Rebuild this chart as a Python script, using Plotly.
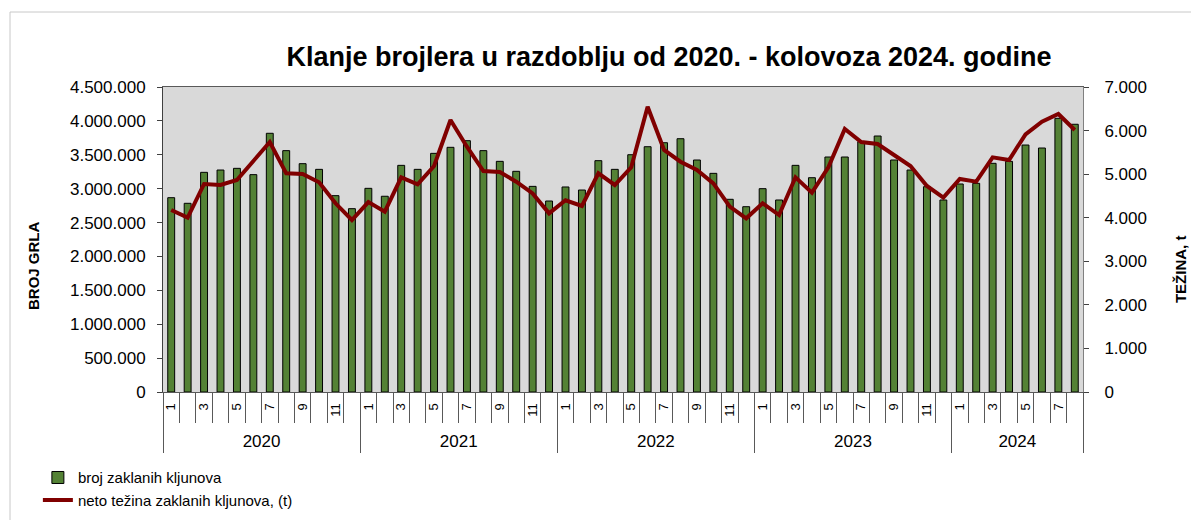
import plotly.graph_objects as go

# monthly data, Jan 2020 - Aug 2024
years = ["2020", "2021", "2022", "2023", "2024"]
months_per_year = [12, 12, 12, 12, 8]

broj_zaklanih = [
    2867000, 2784000, 3241000, 3275000, 3300000, 3207000, 3817000, 3561000, 3369000, 3285000, 2897000, 2705000,
    3005000, 2888000, 3344000, 3285000, 3521000, 3610000, 3708000, 3561000, 3403000, 3256000, 3034000, 2818000,
    3025000, 2980000, 3413000, 3285000, 3501000, 3619000, 3678000, 3737000, 3423000, 3226000, 2843000, 2734000,
    3000000, 2833000, 3344000, 3162000, 3467000, 3467000, 3693000, 3777000, 3423000, 3275000, 3029000, 2833000,
    3069000, 3079000, 3374000, 3403000, 3644000, 3600000, 4038000, 3950000,
]
neto_tezina = [
    4177, 4001, 4774, 4751, 4866, 5309, 5738, 5019, 5003, 4812, 4331, 3948,
    4360, 4139, 4927, 4766, 5187, 6243, 5630, 5072, 5049, 4827, 4559, 4100,
    4400, 4269, 5019, 4751, 5157, 6548, 5554, 5286, 5095, 4789, 4254, 3986,
    4330, 4062, 4927, 4574, 5157, 6036, 5738, 5692, 5439, 5187, 4728, 4460,
    4889, 4827, 5386, 5325, 5914, 6204, 6380, 6013,
]

FONT = "Liberation Sans, Arial, sans-serif"
GREEN = "#548235"
RED = "#800000"

# category index and month number for each bar
months = [m for n in months_per_year for m in range(1, n + 1)]
x = list(range(len(months)))
n = len(x)

odd_idx = [i for i, m in enumerate(months) if m % 2 == 1]
odd_txt = [str(months[i]) for i in odd_idx]
boundaries = [i - 0.5 for i in range(1, n)]
year_edges = [-0.5]
for k in months_per_year:
    year_edges.append(year_edges[-1] + k)
year_mid = [(a + b) / 2 for a, b in zip(year_edges[:-1], year_edges[1:])]

fig = go.Figure()
fig.add_trace(go.Bar(
    x=x, y=broj_zaklanih, name="broj zaklanih kljunova", width=0.42,
    marker=dict(color=GREEN, line=dict(color="#000000", width=1)),
))
# line sits on the overlaid x2 axis (which also carries the year labels)
fig.add_trace(go.Scatter(
    x=x, y=neto_tezina, name="neto težina zaklanih kljunova, (t)", mode="lines",
    xaxis="x2", yaxis="y2",
    line=dict(color=RED, width=4),
))

# page body has an 8px margin, so the figure is sized to the visible area
fig.update_layout(
    width=1191, height=512,
    margin=dict(l=155, r=116, t=79, b=128, autoexpand=False),
    paper_bgcolor="white", plot_bgcolor="#d9d9d9",
    separators=",.",
    font=dict(family=FONT, color="#000000", size=15),
    title=dict(
        text="<b>Klanje brojlera u razdoblju od 2020. - kolovoza 2024. godine</b>",
        x=0.555, xanchor="center", y=0.906, yanchor="middle",
        font=dict(size=27, family=FONT, color="#000000"),
    ),
    showlegend=True,
    legend=dict(
        x=-0.136, y=-0.227, xanchor="left", yanchor="top", orientation="v",
        font=dict(size=15, family=FONT), bgcolor="rgba(0,0,0,0)", tracegroupgap=2,
    ),
    xaxis=dict(
        range=[-0.5, n - 0.5], showgrid=False, zeroline=False,
        showline=True, linecolor="#595959", linewidth=1, mirror=True,
        tickmode="array", tickvals=odd_idx, ticktext=odd_txt, tickangle=-90,
        ticks="outside", ticklen=5, tickcolor="rgba(0,0,0,0)",
        tickfont=dict(size=13, family=FONT),
        minor=dict(tickmode="array", tickvals=boundaries, ticks="outside",
                   ticklen=30, tickcolor="#595959", tickwidth=1),
    ),
    xaxis2=dict(
        overlaying="x", matches="x", anchor="y", side="bottom",
        showgrid=False, zeroline=False, showline=False,
        tickmode="array", tickvals=year_mid, ticktext=years,
        ticks="outside", ticklen=34, tickcolor="rgba(0,0,0,0)",
        tickfont=dict(size=17, family=FONT),
        minor=dict(tickmode="array", tickvals=year_edges, ticks="outside",
                   ticklen=60, tickcolor="#595959", tickwidth=1),
    ),
    yaxis=dict(
        range=[0, 4500000], dtick=500000, tickformat=",d",
        showgrid=False, zeroline=False,
        showline=True, linecolor="#404040", linewidth=1,
        ticks="outside", ticklen=5, tickcolor="#404040",
        tickfont=dict(size=17, family=FONT), ticklabelstandoff=8,
    ),
    yaxis2=dict(
        range=[0, 7000], dtick=1000, tickformat=",d", overlaying="y", side="right",
        anchor="x2",
        showgrid=False, zeroline=False,
        showline=True, linecolor="#808080", linewidth=1,
        ticks="outside", ticklen=5, tickcolor="#404040",
        tickfont=dict(size=17, family=FONT), ticklabelstandoff=12,
    ),
    annotations=[
        dict(text="<b>BROJ GRLA</b>", textangle=-90, xref="paper", yref="paper",
             x=-0.1413, y=0.413, xanchor="center", yanchor="middle",
             showarrow=False, font=dict(size=15, family=FONT)),
        dict(text="<b>TEŽINA, t</b>", textangle=-90, xref="paper", yref="paper",
             x=1.1054, y=0.403, xanchor="center", yanchor="middle",
             showarrow=False, font=dict(size=15, family=FONT)),
    ],
    shapes=[
        dict(type="rect", xref="paper", yref="paper", x0=-0.1663, x1=1.14, y0=-0.46, y1=1.2459,
             line=dict(color="#c8c8c8", width=1), layer="below"),
    ],
)

fig.write_html("out.html")
